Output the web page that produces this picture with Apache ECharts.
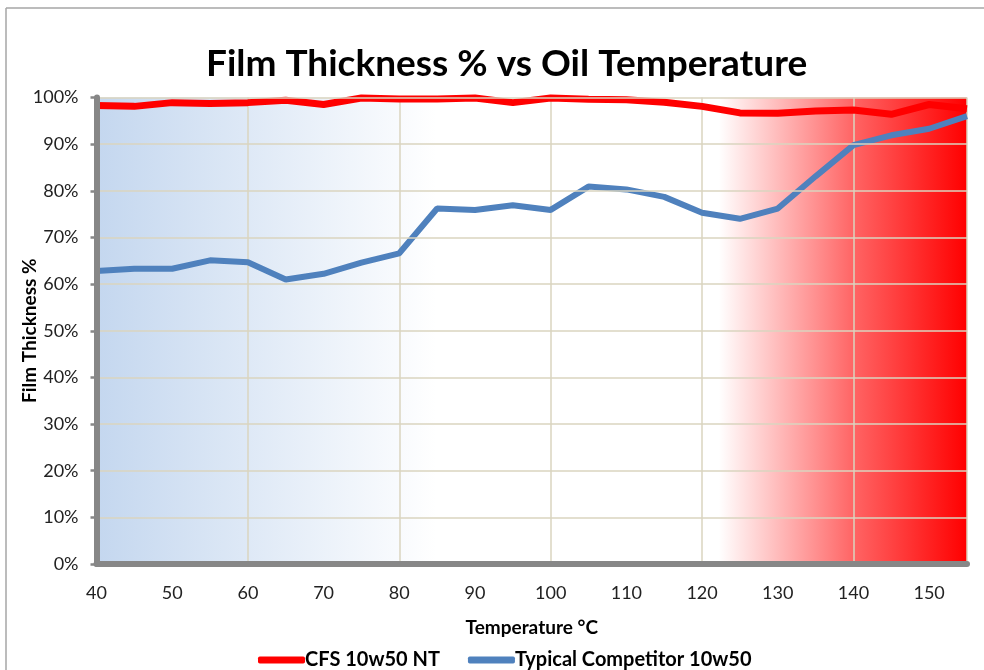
<!DOCTYPE html>
<html>
<head>
<meta charset="utf-8">
<script src="https://cdn.jsdelivr.net/npm/echarts@6/dist/echarts.min.js"></script>
<style>
  html, body { margin: 0; padding: 0; background: #fff; }
  #chart { width: 984px; height: 670px; }
</style>
</head>
<body>
<div id="chart"></div>
<script>
// temperatures (°C)
const temps = [40, 45, 50, 55, 60, 65, 70, 75, 80, 85, 90, 95, 100, 105, 110, 115, 120, 125, 130, 135, 140, 145, 150, 155];
// film thickness %
const cfs = [98.3, 98.1, 98.9, 98.7, 98.9, 99.4, 98.5, 99.9, 99.7, 99.7, 99.9, 98.9, 99.9, 99.6, 99.5, 99.0, 98.1, 96.7, 96.6, 97.1, 97.3, 96.4, 98.5, 97.6];
const competitor = [62.8, 63.3, 63.3, 65.1, 64.7, 61.0, 62.2, 64.6, 66.6, 76.2, 75.9, 76.9, 75.9, 80.9, 80.3, 78.7, 75.3, 74.0, 76.2, 83.1, 89.8, 91.9, 93.3, 96.0];
const seriesNames = ['CFS 10w50 NT', 'Typical Competitor 10w50'];

const font = 'Lato, "Open Sans", sans-serif';
const axisGray = '#878787';
const gridTan = '#dad5bf';

const option = {
  animation: false,
  textStyle: { fontFamily: font },
  title: {
    text: 'Film Thickness % vs Oil Temperature',
    left: 201,
    top: 41,
    textStyle: { fontFamily: font, fontSize: 37, fontWeight: 'bold', color: '#000' }
  },
  legend: {
    left: 253,
    top: 645,
    itemWidth: 47,
    itemHeight: 7,
    itemGap: 28,
    icon: 'roundRect',
    textStyle: { fontFamily: font, fontSize: 20, fontWeight: 'bold', color: '#000', padding: [0, 0, 0, -5] },
    data: seriesNames
  },
  graphic: [
    { type: 'line', shape: { x1: 6, y1: 8, x2: 6, y2: 670 }, style: { stroke: '#a6a6a6', lineWidth: 1.5 } },
    { type: 'line', shape: { x1: 6, y1: 8, x2: 984, y2: 8 }, style: { stroke: '#a6a6a6', lineWidth: 1.5 } }
  ],
  grid: {
    left: 96.5,
    right: 17,
    top: 97.5,
    bottom: 106,
    outerBoundsMode: 'none',
    show: true,
    borderWidth: 0,
    backgroundColor: {
      type: 'linear', x: 0, y: 0, x2: 1, y2: 0,
      colorStops: [
        { offset: 0, color: '#c4d7ef' },
        { offset: 0.39, color: '#ffffff' },
        { offset: 0.715, color: '#ffffff' },
        { offset: 0.87, color: '#ff6464' },
        { offset: 1, color: '#ff0000' }
      ]
    }
  },
  xAxis: [
    {
      type: 'value',
      min: 40,
      max: 155,
      interval: 10,
      name: 'Temperature °C',
      nameLocation: 'middle',
      nameGap: 54,
      nameMoveOverlap: false,
      nameTextStyle: { fontFamily: font, fontSize: 19, fontWeight: 'bold', color: '#000' },
      axisLine: { onZero: false, lineStyle: { color: axisGray, width: 6 } },
      axisTick: { show: false },
      axisLabel: { showMaxLabel: false, margin: 20, fontSize: 18, color: '#222' },
      splitLine: { show: false },
      z: 5
    },
    {
      type: 'value',
      min: 40,
      max: 155,
      interval: 20,
      position: 'bottom',
      axisLine: { show: false },
      axisTick: { show: false },
      axisLabel: { show: false },
      splitLine: { show: true, lineStyle: { color: gridTan, width: 1.5 } }
    }
  ],
  yAxis: {
    type: 'value',
    min: 0,
    max: 100,
    interval: 10,
    name: 'Film Thickness %',
    nameLocation: 'middle',
    nameGap: 57,
    nameMoveOverlap: false,
    nameTextStyle: { fontFamily: font, fontSize: 19, fontWeight: 'bold', color: '#000' },
    axisLine: { show: true, lineStyle: { color: axisGray, width: 6 } },
    axisTick: { show: true, length: 6, lineStyle: { color: axisGray, width: 2.5 } },
    axisLabel: { margin: 18, fontSize: 18, color: '#222', formatter: '{value}%' },
    splitLine: { show: true, lineStyle: { color: gridTan, width: 1.5 } },
    z: 5
  },
  series: [
    {
      name: seriesNames[0],
      type: 'line',
      data: temps.map((t, i) => [t, cfs[i]]),
      symbol: 'none',
      lineStyle: { color: '#ff0000', width: 7 },
      itemStyle: { color: '#ff0000' },
      z: 3
    },
    {
      name: seriesNames[1],
      type: 'line',
      data: temps.map((t, i) => [t, competitor[i]]),
      symbol: 'none',
      lineStyle: { color: '#4f81bd', width: 6 },
      itemStyle: { color: '#4f81bd' },
      z: 3
    }
  ]
};

const myChart = echarts.init(document.getElementById('chart'));
myChart.setOption(option);
</script>
</body>
</html>
